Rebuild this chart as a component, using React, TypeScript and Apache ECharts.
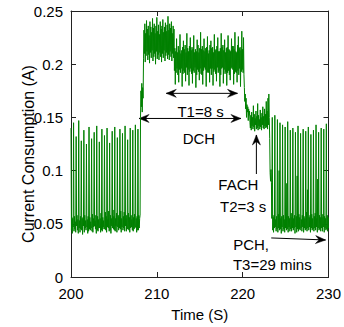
import { useEffect, useRef } from "react";
import * as echarts from "echarts";

// Sampling of the trace: start time (s) and step (s); values below are in mA
const startTime = 200;
const sampleStep = 0.05;

// 200.00 - 208.05 s : idle, baseline with periodic spikes
const idleBefore = [
  140, 44, 56, 41, 55, 47, 145, 43, 57, 45, 52, 42, 132, 48, 58, 44, 54, 41,
  147, 46, 53, 42, 57, 45, 128, 44, 55, 40, 56, 48, 138, 42, 58, 46, 53, 44,
  125, 47, 54, 41, 57, 43, 141, 45, 56, 44, 52, 46, 130, 43, 59, 42, 55, 47,
  136, 48, 53, 45, 58, 41, 142, 44, 57, 43, 54, 46, 127, 46, 55, 42, 60, 44,
  139, 43, 56, 47, 53, 45, 133, 45, 61, 44, 57, 42, 140, 47, 54, 46, 62, 43,
  126, 44, 58, 41, 55, 48, 137, 46, 63, 45, 57, 44, 141, 43, 55, 48, 60, 42,
  131, 47, 58, 44, 56, 46, 139, 45, 62, 42, 55, 47, 135, 44, 57, 46, 61, 43,
  142, 48, 55, 43, 58, 45, 129, 45, 60, 44, 56, 42, 140, 46, 58, 47, 54, 44,
  138, 43, 56, 45, 59, 46, 143, 47, 55, 42, 57, 44, 139, 44, 58, 46, 55, 58,
];
// 208.10 - 208.40 s : ramp up
const rampUp = [150, 175, 160, 182, 155, 178, 168];
// 208.45 - 212.00 s : DCH peak
const dchPeak = [
  205, 232, 210, 238, 202, 229, 208, 241, 212, 233, 204, 236, 209, 227, 201, 240,
  211, 235, 206, 230, 213, 243, 203, 234, 207, 238, 210, 229, 200, 236, 212, 244,
  205, 231, 209, 237, 204, 228, 211, 240, 207, 233, 202, 236, 210, 242, 206, 230,
  213, 235, 203, 239, 208, 231, 211, 237, 205, 245, 209, 232, 204, 238, 212, 234,
  207, 240, 203, 229, 210, 236, 206, 233,
];
// 212.05 - 220.15 s : DCH plateau
const dchPlateau = [
  194, 215, 181, 212, 192, 224, 196, 211, 190, 217, 183, 213, 195, 228, 192, 210,
  196, 213, 179, 216, 191, 222, 194, 214, 192, 218, 184, 211, 197, 229, 190, 215,
  195, 212, 180, 217, 193, 225, 196, 213, 191, 216, 182, 214, 194, 227, 192, 211,
  197, 214, 178, 212, 190, 223, 195, 218, 193, 211, 185, 215, 196, 230, 191, 214,
  190, 217, 181, 213, 194, 224, 197, 212, 195, 215, 179, 216, 192, 226, 193, 210,
  192, 213, 183, 218, 196, 222, 190, 215, 196, 216, 180, 211, 193, 228, 195, 213,
  191, 214, 184, 217, 197, 225, 192, 212, 194, 212, 179, 215, 190, 229, 196, 216,
  197, 218, 182, 213, 195, 223, 191, 211, 193, 215, 180, 216, 192, 227, 194, 214,
  190, 213, 185, 212, 196, 224, 197, 217, 195, 217, 181, 214, 191, 230, 193, 212,
  192, 211, 183, 218, 194, 226, 190, 215, 196, 216, 179, 213, 193, 231, 195, 214,
  192, 225, 190,
];
// 220.20 - 220.85 s : drop to FACH
const dchDrop = [178, 165, 172, 158, 168, 150, 162, 155, 160, 147, 158, 152, 156, 145];
// 220.90 - 223.10 s : FACH
const fach = [
  140, 152, 138, 155, 142, 150, 139, 161, 141, 153, 137, 149, 143, 156, 139,
  151, 140, 163, 138, 152, 142, 148, 139, 157, 141, 150, 138, 154, 143, 160,
  140, 151, 139, 158, 142, 153, 140, 165, 141, 156, 139, 168, 143, 172, 150,
];
// 223.15 - 223.40 s : drop to PCH
const fachDrop = [130, 98, 90, 101, 89, 55];
// 223.45 - 230.00 s : PCH
const pch = [
  150, 44, 56, 42, 58, 46, 152, 47, 54, 43, 57, 45, 148, 42, 59, 46, 100, 44,
  145, 45, 55, 41, 57, 47, 143, 43, 58, 45, 54, 42, 141, 46, 56, 44, 88, 45,
  146, 42, 57, 47, 55, 43, 138, 45, 60, 43, 56, 46, 140, 44, 55, 46, 58, 41,
  136, 47, 57, 42, 95, 45, 142, 43, 59, 45, 56, 44, 135, 46, 54, 43, 58, 47,
  139, 42, 57, 46, 55, 44, 137, 45, 61, 43, 82, 46, 141, 44, 56, 47, 58, 42,
  134, 46, 59, 44, 55, 45, 138, 43, 57, 46, 60, 44, 143, 47, 55, 42, 92, 46,
  136, 44, 58, 45, 56, 43, 140, 46, 56, 43, 59, 47, 139, 42, 57, 46, 55, 44,
  144, 45, 58, 43, 56, 46,
];
const segments = [idleBefore, rampUp, dchPeak, dchPlateau, dchDrop, fach, fachDrop, pch];

// Axis ticks
const xTicks = { min: 200, max: 230, interval: 10 };
const yTicks = { min: 0, max: 0.25, interval: 0.05 };

// Annotations in data coordinates [time, current]
const arrows = [
  { from: [211.1, 0.1726], to: [219.4, 0.1726], both: true },
  { from: [207.93, 0.149], to: [219.8, 0.149], both: true },
  { from: [221.6, 0.0968], to: [221.6, 0.1335], both: false },
  { from: [223.33, 0.0367], to: [229.66, 0.0348], both: false },
];
const labels = [
  { text: "T1=8 s", at: [215.1, 0.156] },
  { text: "DCH", at: [214.9, 0.1297] },
  { text: "FACH", at: [219.5, 0.0865] },
  { text: "T2=3 s", at: [220.06, 0.0658] },
  { text: "PCH,", at: [220.98, 0.031] },
  { text: "T3=29 mins", at: [223.45, 0.0122] },
];

const FONT = "'Liberation Sans', Arial, Helvetica, sans-serif";
const GREEN = "#008000";
const INK = "#000";

function arrowHead(tip: number[], tail: number[]) {
  const dx = tip[0] - tail[0];
  const dy = tip[1] - tail[1];
  const len = Math.hypot(dx, dy) || 1;
  const ux = dx / len;
  const uy = dy / len;
  const nx = -uy;
  const ny = ux;
  const L = 10;
  const W = 4;
  return [
    [tip[0], tip[1]],
    [tip[0] - L * ux + W * nx, tip[1] - L * uy + W * ny],
    [tip[0] - 0.65 * L * ux, tip[1] - 0.65 * L * uy],
    [tip[0] - L * ux - W * nx, tip[1] - L * uy - W * ny],
  ];
}

export default function App() {
  const ref = useRef<HTMLDivElement>(null);
  useEffect(() => {
    const chart = echarts.init(ref.current!, null, { renderer: "svg" });
    const values = segments.flat();
    const data = values.map((v, i) => [startTime + i * sampleStep, v / 1000]);
    const axisLabel = { color: INK, fontFamily: FONT, fontSize: 15 };
    const axisLine = { show: true, onZero: false, lineStyle: { color: "#222", width: 1 } };
    const axisTick = { show: true, inside: true, length: 5, lineStyle: { color: "#222", width: 1 } };
    chart.setOption({
      animation: false,
      backgroundColor: "#fff",
      grid: { left: 71, right: 12, top: 11, bottom: 50, containLabel: false },
      xAxis: [
        {
          type: "value",
          position: "bottom",
          ...xTicks,
          axisLine,
          axisTick,
          splitLine: { show: false },
          axisLabel: { ...axisLabel, margin: 9, showMinLabel: true, showMaxLabel: true },
          name: "Time (S)",
          nameLocation: "middle",
          nameGap: 30,
          nameTextStyle: { color: INK, fontFamily: FONT, fontSize: 15 },
        },
        {
          type: "value",
          position: "top",
          ...xTicks,
          axisLine,
          axisTick,
          splitLine: { show: false },
          axisLabel: { show: false },
        },
      ],
      yAxis: [
        {
          type: "value",
          position: "left",
          ...yTicks,
          axisLine,
          axisTick,
          splitLine: { show: false },
          axisLabel: { ...axisLabel, margin: 8, showMinLabel: true, showMaxLabel: true },
        },
        {
          type: "value",
          position: "right",
          ...yTicks,
          axisLine,
          axisTick,
          splitLine: { show: false },
          axisLabel: { show: false },
        },
      ],
      series: [
        {
          type: "line",
          xAxisIndex: 0,
          yAxisIndex: 0,
          data,
          symbol: "none",
          showSymbol: false,
          silent: true,
          lineStyle: { color: GREEN, width: 1 },
        },
      ],
    });

    const px = (p: number[]) => chart.convertToPixel({ xAxisIndex: 0, yAxisIndex: 0 }, p) as number[];
    const graphics: any[] = [];
    arrows.forEach((a) => {
      const p0 = px(a.from);
      const p1 = px(a.to);
      graphics.push({
        type: "line",
        shape: { x1: p0[0], y1: p0[1], x2: p1[0], y2: p1[1] },
        style: { stroke: INK, lineWidth: 1 },
        silent: true,
      });
      graphics.push({
        type: "polygon",
        shape: { points: arrowHead(p1, p0) },
        style: { fill: INK, stroke: INK, lineWidth: 0.5 },
        silent: true,
      });
      if (a.both) {
        graphics.push({
          type: "polygon",
          shape: { points: arrowHead(p0, p1) },
          style: { fill: INK, stroke: INK, lineWidth: 0.5 },
          silent: true,
        });
      }
    });
    labels.forEach((l) => {
      const p = px(l.at);
      graphics.push({
        type: "text",
        x: p[0],
        y: p[1],
        silent: true,
        style: {
          text: l.text,
          fill: INK,
          font: `15px ${FONT}`,
          align: "center",
          verticalAlign: "middle",
        },
      });
    });
    graphics.push({
      type: "text",
      x: 28.5,
      y: 154,
      rotation: Math.PI / 2,
      silent: true,
      style: {
        text: "Current Consumption (A)",
        fill: INK,
        font: `16px ${FONT}`,
        align: "center",
        verticalAlign: "middle",
      },
    });
    chart.setOption({ graphic: graphics });
    return () => chart.dispose();
  }, []);
  return (
    <div
      ref={ref}
      style={{ position: "absolute", left: 0, top: 0, width: 344, height: 327 }}
    />
  );
}
